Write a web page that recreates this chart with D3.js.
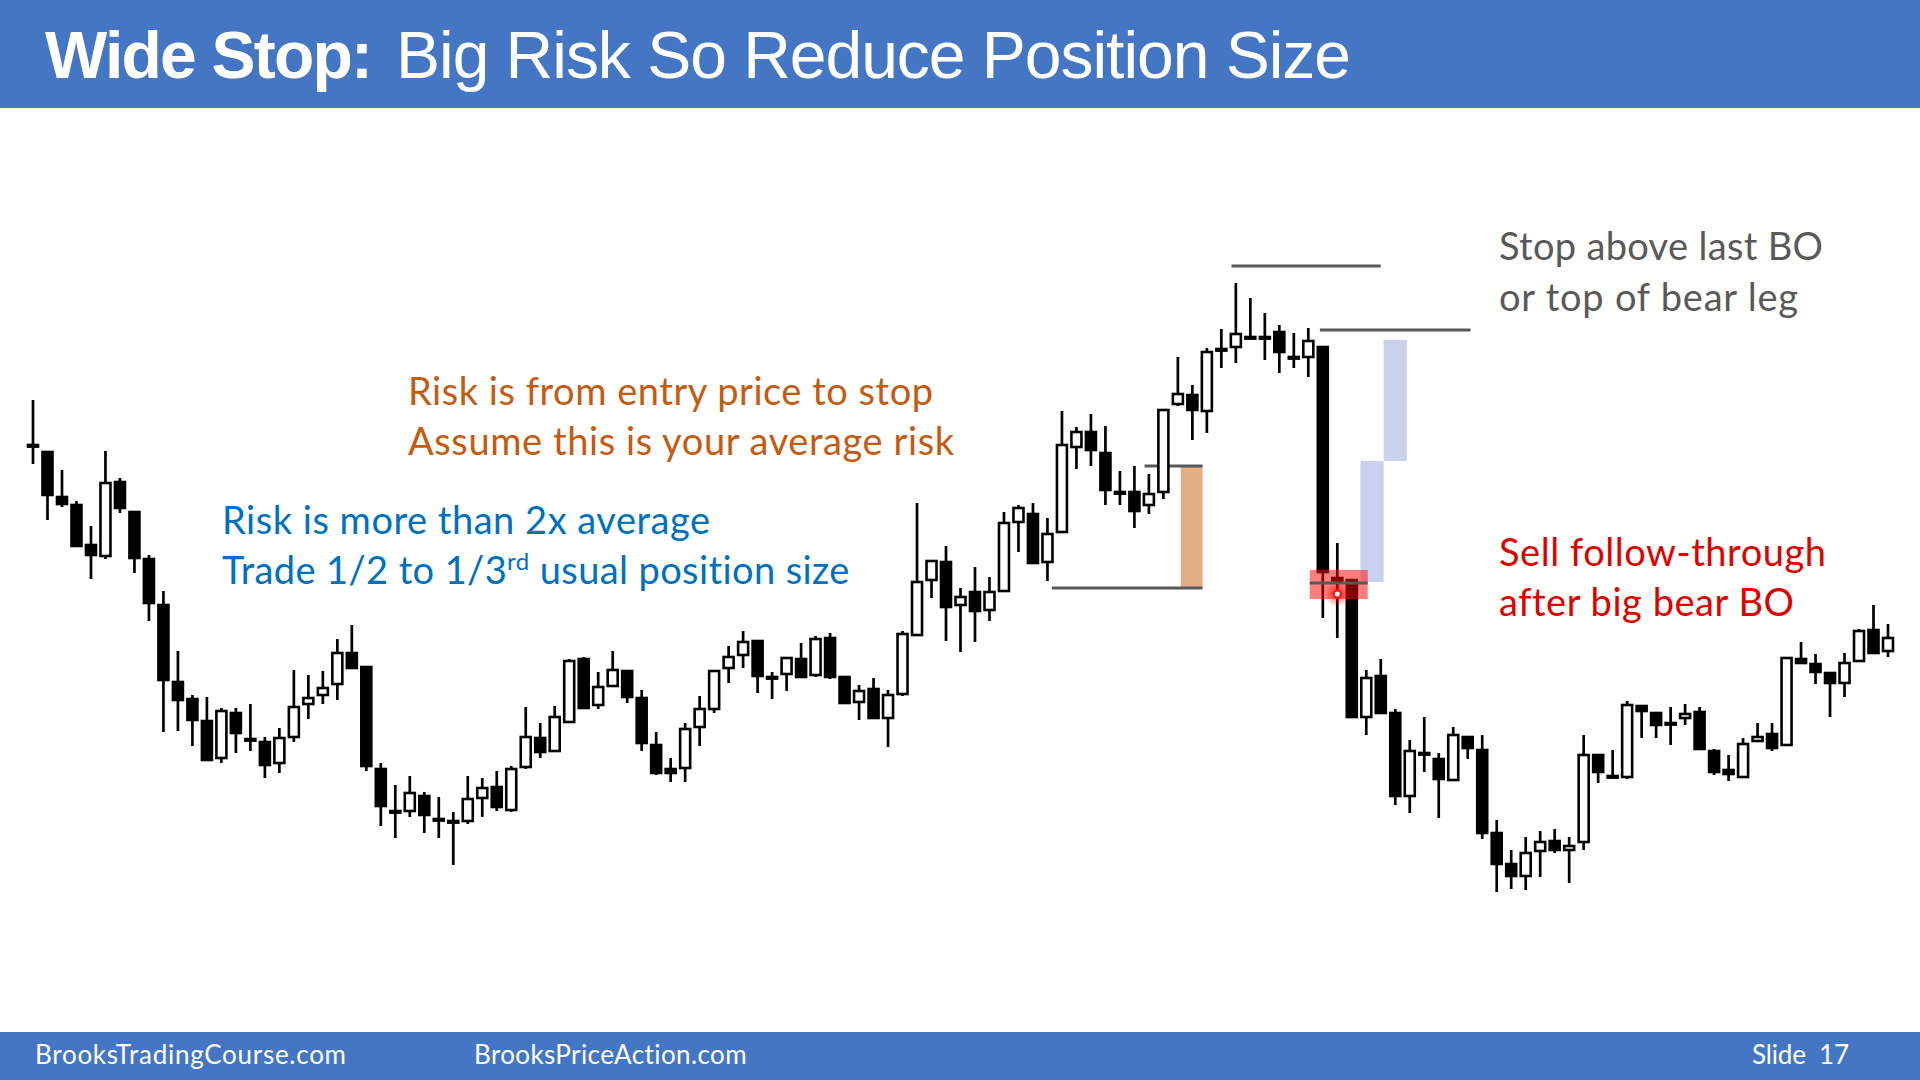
<!DOCTYPE html>
<html><head><meta charset="utf-8">
<script src="https://cdn.jsdelivr.net/npm/d3@7"></script>
<style>html,body{margin:0;padding:0;background:#fff;overflow:hidden}</style>
</head><body>
<svg id="c" width="1920" height="1080"></svg>
<script>
// ---- Data ----
const opens  = [555,548,503,495,455,444,518,488,441,395,318,301,279,242,287,261,258,237,263,296,305,316,347,333,231,189,189,204,181,179,179,202,213,190,233,262,249,278,341,295,314,329,302,255,231,232,273,291,332,345,359,323,326,341,325,362,323,298,311,282,306,365,420,438,395,408,390,409,478,486,438,468,553,568,547,508,508,495,508,596,605,589,651,653,663,663,668,643,643,653,422,420,283,324,287,204,247,241,220,263,250,167,136,124,149,159,150,158,245,224,223,294,287,277,282,288,249,230,223,259,266,255,341,336,327,317,339,370,349];
const highs  = [600,548,530,499,474,549,522,488,445,409,349,305,303,292,292,296,263,272,330,325,329,361,375,333,237,215,224,208,203,188,224,222,229,234,293,277,294,341,343,328,349,329,310,268,242,277,304,329,354,369,359,328,342,357,364,367,324,315,322,310,369,497,439,454,412,433,423,488,495,497,482,589,573,586,574,529,534,526,590,643,615,652,671,717,702,687,675,667,672,653,457,420,330,341,291,260,283,247,273,263,265,180,150,163,169,171,163,265,245,250,299,294,287,293,296,293,251,245,262,277,277,342,358,346,327,347,371,395,376];
const lows   = [536,480,493,454,421,441,487,427,379,268,269,254,240,237,247,249,222,227,258,281,296,300,331,229,174,162,183,167,162,135,176,183,189,188,231,242,249,278,291,291,313,297,249,225,218,218,254,287,317,332,307,301,309,323,323,321,297,280,282,253,304,365,402,359,348,358,379,409,448,437,419,468,531,534,495,495,472,486,501,594,560,567,632,637,662,640,627,632,623,382,362,283,265,287,195,187,228,182,220,241,161,108,111,110,123,147,117,150,217,224,221,262,262,255,275,251,225,219,222,258,249,254,337,316,283,303,338,347,343];
const closes = [555,505,496,454,445,517,492,442,397,320,300,280,240,289,267,261,235,262,293,302,312,347,332,234,194,189,207,185,181,179,201,212,193,231,263,248,283,339,292,313,330,303,257,227,227,271,291,329,343,358,324,323,342,323,361,323,297,309,282,305,366,418,439,393,403,389,408,477,492,437,466,555,568,550,510,508,489,506,590,606,590,648,651,666,663,663,648,643,659,428,419,283,322,287,204,249,247,221,265,252,167,136,124,147,158,150,154,245,228,224,295,289,275,277,286,251,228,226,256,263,252,342,337,328,317,337,369,347,362];

// annotation levels: [fromBar, toBar, price]
const stopLevels   = [[82.7, 93.0, 734], [88.8, 99.2, 670]];
const entryLevel   = [76.7, 80.7, 534];
const avgStopLevel = [70.3, 80.7, 412];
const riskBar      = [79.2, 80.7, 534, 412];
const wideRiskBars = [[91.6, 93.2, 539, 418], [93.2, 94.8, 660, 539]];
const entryZone    = [88.1, 92.1, 430, 401, 417];
const entryMark    = [90.0, 406];

const titleBold = "Wide Stop:";
const titleRest = "Big Risk So Reduce Position Size";
const grayText   = ["Stop above last BO", "or top of bear leg"];
const orangeText = ["Risk is from entry price to stop", "Assume this is your average risk"];
const blueText   = ["Risk is more than 2x average"];
const redText    = ["Sell follow-through", "after big bear BO"];
const footer     = ["BrooksTradingCourse.com", "BrooksPriceAction.com", "Slide  17"];

// ---- Drawing ----
const svg = d3.select("#c");
const W = 1920, H = 1080;
const bars = opens.map((o, i) => ({i, o, h: highs[i], l: lows[i], c: closes[i]}));

const x = d3.scaleLinear().domain([0, bars.length - 1]).range([33, 1888]);
const y = d3.scaleLinear().domain([100, 740]).range([900, 260]);

svg.append("rect").attr("width", W).attr("height", H).attr("fill", "#ffffff");

// header / footer bands
svg.append("rect").attr("x", 0).attr("y", 0).attr("width", W).attr("height", 108).attr("fill", "#4576C3");
svg.append("rect").attr("x", 0).attr("y", 1032).attr("width", W).attr("height", 48).attr("fill", "#4576C3");

function fit(sel, target) {
  const n = sel.node();
  const len = n.getComputedTextLength();
  const chars = n.textContent.length;
  if (chars > 1) sel.attr("letter-spacing", ((target - len) / (chars - 1)).toFixed(3));
}

const t1 = svg.append("text").attr("x", 45).attr("y", 78)
  .attr("font-family", "'Liberation Sans', Arial, sans-serif").attr("font-weight", "bold")
  .attr("font-size", 66).attr("fill", "#fff").text(titleBold);
fit(t1, 328);
const t2 = svg.append("text").attr("x", 396).attr("y", 78)
  .attr("font-family", "'Liberation Sans', Arial, sans-serif")
  .attr("font-size", 66).attr("fill", "#fff").text(titleRest);
fit(t2, 955);

const fFont = "Lato, 'Open Sans', sans-serif";
[[footer[0], 35, 311], [footer[1], 474, 273], [footer[2], 1752, 97]].forEach(([s, fx, w]) => {
  const t = svg.append("text").attr("x", fx).attr("y", 1064).attr("font-family", fFont)
    .attr("font-size", 26).attr("fill", "#fff").style("white-space", "pre").text(s);
  fit(t, w);
});

// annotation boxes (behind bars)
const g = svg.append("g");
g.selectAll("rect.wide").data(wideRiskBars).join("rect").attr("class", "wide")
  .attr("x", d => x(d[0])).attr("width", d => x(d[1]) - x(d[0]))
  .attr("y", d => y(d[2])).attr("height", d => y(d[3]) - y(d[2]))
  .attr("fill", "#C8D2EE");
g.append("rect").attr("x", x(riskBar[0])).attr("width", x(riskBar[1]) - x(riskBar[0]))
  .attr("y", y(riskBar[2])).attr("height", y(riskBar[3]) - y(riskBar[2]))
  .attr("fill", "#E2AE87");

const lineColor = "#595959";
const lines = [...stopLevels, entryLevel, avgStopLevel];
g.selectAll("line.lvl").data(lines).join("line").attr("class", "lvl")
  .attr("x1", d => x(d[0])).attr("x2", d => x(d[1]))
  .attr("y1", d => y(d[2])).attr("y2", d => y(d[2]))
  .attr("stroke", lineColor).attr("stroke-width", 3);

// candlesticks
const cg = svg.append("g");
const bw = 10;
cg.selectAll("line.wick").data(bars).join("line").attr("class", "wick")
  .attr("x1", d => x(d.i)).attr("x2", d => x(d.i))
  .attr("y1", d => y(d.h)).attr("y2", d => y(d.l))
  .attr("stroke", "#000").attr("stroke-width", 2.7);
cg.selectAll("rect.body").data(bars).join("rect").attr("class", "body")
  .attr("x", d => x(d.i) - bw / 2).attr("width", bw)
  .attr("y", d => y(Math.max(d.o, d.c)))
  .attr("height", d => Math.max(1.6, Math.abs(y(d.o) - y(d.c))))
  .attr("fill", d => d.c > d.o ? "#fff" : "#000")
  .attr("stroke", "#000").attr("stroke-width", 2.6);

// entry highlight (on top)
const defs = svg.append("defs");
const rg = defs.append("radialGradient").attr("id", "glow");
rg.append("stop").attr("offset", "0%").attr("stop-color", "#ff0000").attr("stop-opacity", 0.7);
rg.append("stop").attr("offset", "100%").attr("stop-color", "#ff0000").attr("stop-opacity", 0);
svg.append("rect").attr("x", x(entryZone[0])).attr("width", x(entryZone[1]) - x(entryZone[0]))
  .attr("y", y(entryZone[2])).attr("height", y(entryZone[3]) - y(entryZone[2]))
  .attr("fill", "#ff0000").attr("opacity", 0.5);
svg.append("line").attr("x1", x(entryZone[0])).attr("x2", x(entryZone[1]))
  .attr("y1", y(entryZone[4])).attr("y2", y(entryZone[4]))
  .attr("stroke", lineColor).attr("stroke-width", 3);
svg.append("circle").attr("cx", x(entryMark[0])).attr("cy", y(entryMark[1])).attr("r", 13).attr("fill", "url(#glow)");
svg.append("circle").attr("cx", x(entryMark[0])).attr("cy", y(entryMark[1])).attr("r", 3.6)
  .attr("fill", "#fff").attr("stroke", "#ff1010").attr("stroke-width", 2.2);

// annotation text
const aFont = "Lato, 'Open Sans', sans-serif";
function textBlock(lines, x0, ys, widths, color) {
  lines.forEach((s, k) => {
    const t = svg.append("text").attr("x", x0).attr("y", ys[k]).attr("font-family", aFont)
      .attr("font-size", 38).attr("fill", color).text(s);
    fit(t, widths[k]);
  });
}
textBlock(grayText, 1499, [260, 311], [324, 299], "#595959");
textBlock(orangeText, 408, [405, 455], [525, 546], "#C55A11");
textBlock(redText, 1499, [566, 616], [327, 294], "#E00000");
textBlock(blueText, 222, [534], [488], "#0070C0");

// blue line 2 with superscript
const b2 = svg.append("text").attr("x", 222).attr("y", 584).attr("font-family", aFont)
  .attr("font-size", 38).attr("fill", "#0070C0");
b2.append("tspan").text("Trade 1/2 to 1/3");
b2.append("tspan").attr("font-size", 24).attr("dy", -14).text("rd");
b2.append("tspan").attr("dy", 14).text(" usual position size");
(function () {
  const len = b2.node().getComputedTextLength();
  const chars = b2.node().textContent.length;
  b2.attr("letter-spacing", ((628 - len) / (chars - 1)).toFixed(3));
})();
</script>
</body></html>
